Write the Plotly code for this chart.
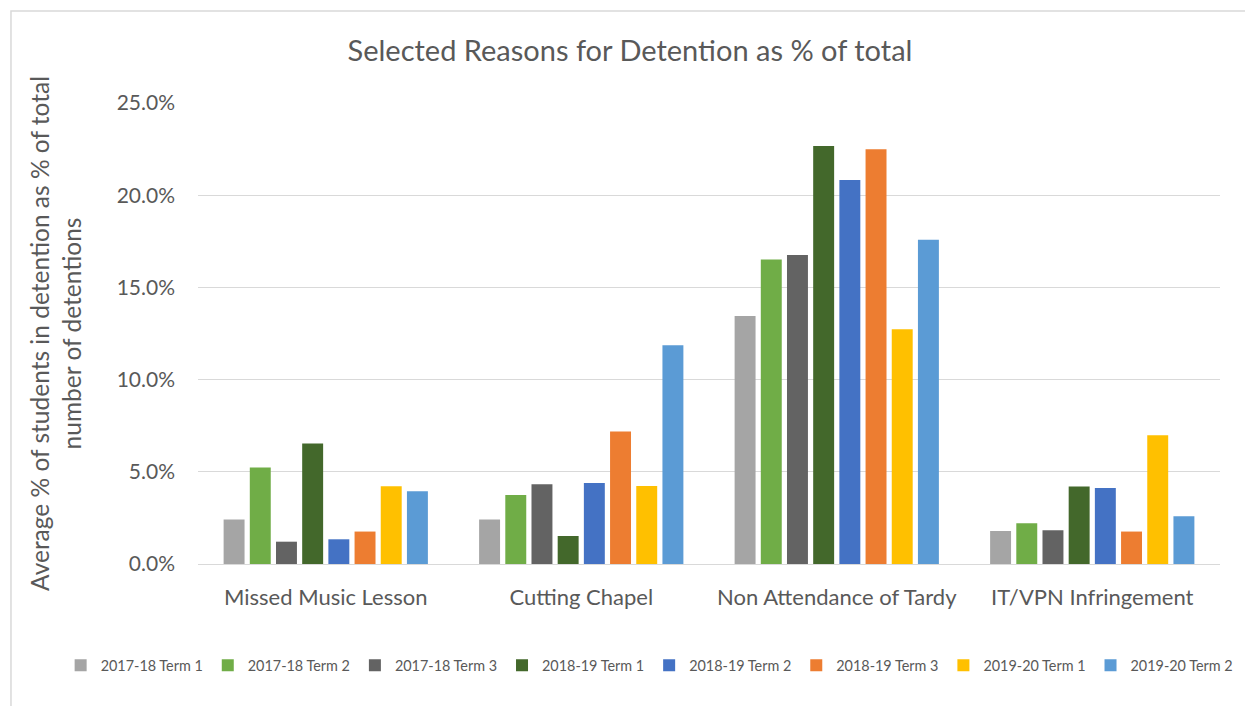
import plotly.graph_objects as go

categories = ["Missed Music Lesson", "Cutting Chapel", "Non Attendance of Tardy", "IT/VPN Infringement"]
series_names = ["2017-18 Term 1", "2017-18 Term 2", "2017-18 Term 3", "2018-19 Term 1",
                "2018-19 Term 2", "2018-19 Term 3", "2019-20 Term 1", "2019-20 Term 2"]
t1718_1 = [0.0242, 0.0241, 0.1345, 0.0179]
t1718_2 = [0.0523, 0.0374, 0.1651, 0.0221]
t1718_3 = [0.0121, 0.0432, 0.1676, 0.0183]
t1819_1 = [0.0653, 0.0152, 0.2267, 0.0420]
t1819_2 = [0.0134, 0.0439, 0.2082, 0.0412]
t1819_3 = [0.0176, 0.0718, 0.2249, 0.0176]
t1920_1 = [0.0421, 0.0423, 0.1273, 0.0698]
t1920_2 = [0.0394, 0.1186, 0.1759, 0.0259]
colors = ["#A5A5A5", "#70AD47", "#636363", "#43682B", "#4472C4", "#ED7D31", "#FFC000", "#5B9BD5"]

series_values = [t1718_1, t1718_2, t1718_3, t1819_1, t1819_2, t1819_3, t1920_1, t1920_2]

FONT = "Lato, 'Open Sans', sans-serif"
TXT = "#595959"

fig = go.Figure()
for name, vals, c in zip(series_names, series_values, colors):
    fig.add_trace(go.Bar(name=name, x=categories, y=vals, marker=dict(color=c, line=dict(width=0))))

fig.update_layout(
    width=1245, height=706,
    barmode="group", bargap=0.18, bargroupgap=0.2,
    paper_bgcolor="white", plot_bgcolor="white",
    margin=dict(l=198, r=25, t=103, b=142),
    font=dict(family=FONT, color=TXT),
    title=dict(text="Selected Reasons for Detention as % of total", x=0.506, xref="container",
               xanchor="center", y=0.928, yanchor="middle", font=dict(size=29, color=TXT, family=FONT)),
    legend=dict(orientation="h", x=-0.1344, xanchor="left", y=-0.22, yanchor="middle",
                font=dict(size=14.4, color=TXT, family=FONT), traceorder="normal",
                itemwidth=30, tracegroupgap=0),
    yaxis=dict(range=[0, 0.25], dtick=0.05, tickformat=".1%", showgrid=True,
               gridcolor="#D9D9D9", gridwidth=1, zeroline=True, zerolinecolor="#D9D9D9",
               zerolinewidth=1, showline=False, ticks="", ticklabelstandoff=22,
               tickfont=dict(size=21, color=TXT, family=FONT),
               title=dict(text="Average % of students in detention as % of total<br>number of detentions",
                          font=dict(size=24.5, color=TXT, family=FONT), standoff=28)),
    xaxis=dict(showline=False, ticks="", ticklabelstandoff=18,
               tickfont=dict(size=22, color=TXT, family=FONT)),
    shapes=[dict(type="rect", xref="paper", yref="paper", x0=-0.183, x1=1.04,
                 y0=-0.33, y1=1.1996, line=dict(color="#D9D9D9", width=1.5), fillcolor="rgba(0,0,0,0)",
                 layer="below")],
)

fig.write_html("out.html")
